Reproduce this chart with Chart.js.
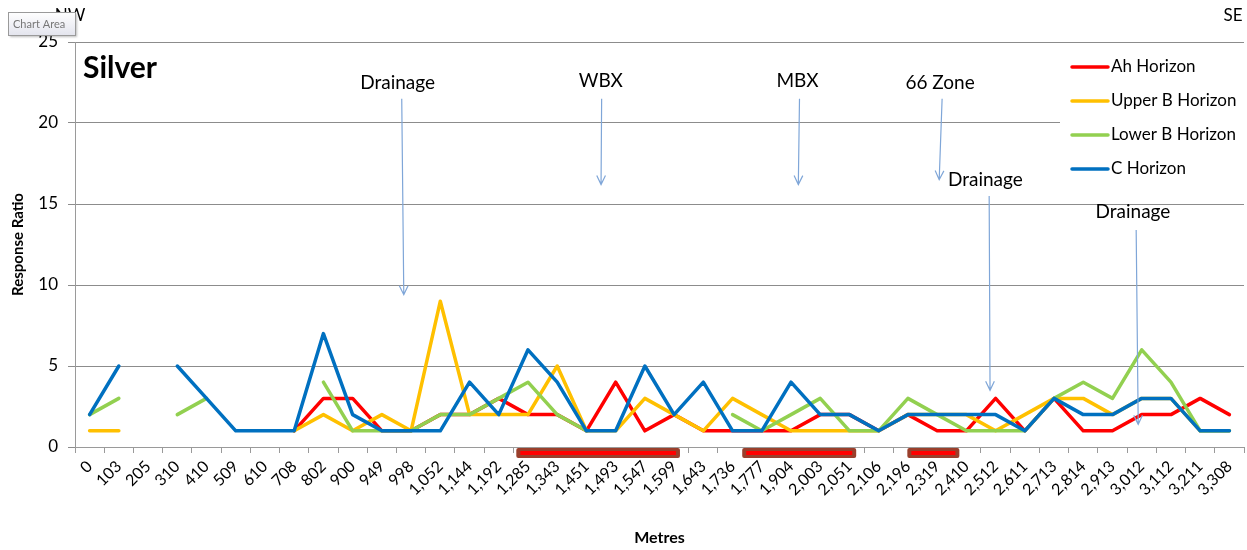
<!DOCTYPE html>
<html>
<head>
<meta charset="utf-8">
<script src="https://cdn.jsdelivr.net/npm/chart.js@4.4.1/dist/chart.umd.min.js"></script>
<style>
  html, body { margin: 0; padding: 0; background: #ffffff; }
  #wrap { width: 1247px; height: 550px; position: relative; }
</style>
</head>
<body>
<div id="wrap"><canvas id="chart" width="1247" height="550"></canvas></div>
<script>
// Sample stations along the traverse (metres)
const metres = ['0','103','205','310','410','509','610','708','802','900',
  '949','998','1,052','1,144','1,192','1,285','1,343','1,451','1,493','1,547',
  '1,599','1,643','1,736','1,777','1,904','2,003','2,051','2,106','2,196','2,319',
  '2,410','2,512','2,611','2,713','2,814','2,913','3,012','3,112','3,211','3,308'];

// Silver response ratio by soil horizon (null = not sampled)
const ahHorizon = [null,null,null,null,null,null,null,1,3,3,
  1,1,2,2,3,2,2,1,4,1,
  2,1,1,1,1,2,2,1,2,1,
  1,3,1,3,1,1,2,2,3,2];
const upperBHorizon = [1,1,null,null,null,null,null,1,2,1,
  2,1,9,2,2,2,5,1,1,3,
  2,1,3,2,1,1,1,1,2,2,
  2,1,2,3,3,2,3,3,1,1];
const lowerBHorizon = [2,3,null,2,3,null,null,null,4,1,
  1,1,2,2,3,4,2,1,null,null,
  null,null,2,1,2,3,1,1,3,2,
  1,1,1,3,4,3,6,4,1,1];
const cHorizon = [2,5,null,5,3,1,1,1,7,2,
  1,1,1,4,2,6,4,1,1,5,
  2,4,1,1,4,2,2,1,2,2,
  2,2,1,3,2,2,3,3,1,1];

const yTicks = [0, 5, 10, 15, 20, 25];

// Mineralised intervals marked under the axis (category index span)
const zones = [[14.6, 20.2], [22.33, 26.23], [27.98, 29.76]];

// Labelled arrows: text anchor and arrow ends in (category index, ratio)
const callouts = [
  { text: 'Drainage', x: 10.54, y: 22.5, from: [10.68, 21.5], to: [10.75, 9.4] },
  { text: 'WBX',      x: 17.49, y: 22.6, from: [17.52, 21.5], to: [17.50, 16.2] },
  { text: 'MBX',      x: 24.22, y: 22.6, from: [24.29, 21.5], to: [24.25, 16.2] },
  { text: '66 Zone',  x: 29.10, y: 22.5, from: [29.17, 21.5], to: [29.07, 16.5] },
  { text: 'Drainage', x: 30.65, y: 16.5, from: [30.78, 15.5], to: [30.81, 3.5] },
  { text: 'Drainage', x: 35.70, y: 14.5, from: [35.81, 13.4], to: [35.88, 1.4] }
];

const FONT = 'Lato, "Open Sans", "DejaVu Sans", sans-serif';

function series(label, data, color, order) {
  return {
    label, data, order,
    borderColor: color, backgroundColor: color,
    borderWidth: 3.5, pointRadius: 0, pointHoverRadius: 0,
    tension: 0, spanGaps: false, fill: false,
    borderJoinStyle: 'round', borderCapStyle: 'round'
  };
}

const decorations = {
  id: 'decorations',
  afterDatasetsDraw(chart) {
    const ctx = chart.ctx;
    const xs = chart.scales.x, ys = chart.scales.y;
    const area = chart.chartArea;
    ctx.save();

    // chart title inside the plot
    ctx.fillStyle = '#000';
    ctx.font = 'bold 30px ' + FONT;
    ctx.textAlign = 'left';
    ctx.textBaseline = 'alphabetic';
    ctx.fillText('Silver', area.left + 8, 78);

    // direction labels
    ctx.font = '17px ' + FONT;
    ctx.textBaseline = 'middle';
    ctx.textAlign = 'center';
    ctx.fillText('NW', 70, 16);
    ctx.fillText('SE', 1233, 16);

    // callouts with arrows
    ctx.strokeStyle = '#7fa6d8';
    ctx.lineWidth = 1.2;
    callouts.forEach(c => {
      ctx.fillStyle = '#000';
      ctx.font = '19px ' + FONT;
      ctx.textAlign = 'center';
      ctx.textBaseline = 'middle';
      ctx.fillText(c.text, xs.getPixelForValue(c.x), ys.getPixelForValue(c.y));
      const x1 = xs.getPixelForValue(c.from[0]), y1 = ys.getPixelForValue(c.from[1]);
      const x2 = xs.getPixelForValue(c.to[0]), y2 = ys.getPixelForValue(c.to[1]);
      ctx.beginPath();
      ctx.moveTo(x1, y1);
      ctx.lineTo(x2, y2);
      const a = Math.atan2(y2 - y1, x2 - x1);
      const h = 10, spread = 0.45;
      ctx.moveTo(x2 - h * Math.cos(a - spread), y2 - h * Math.sin(a - spread));
      ctx.lineTo(x2, y2);
      ctx.lineTo(x2 - h * Math.cos(a + spread), y2 - h * Math.sin(a + spread));
      ctx.stroke();
    });

    // mineralised intervals below the category axis
    const base = ys.getPixelForValue(0);
    zones.forEach(z => {
      const xa = xs.getPixelForValue(z[0]), xb = xs.getPixelForValue(z[1]);
      ctx.fillStyle = '#9a3f2c';
      ctx.beginPath();
      ctx.roundRect(xa, base + 1, xb - xa, 10, 2);
      ctx.fill();
      ctx.strokeStyle = '#ff0000';
      ctx.lineWidth = 4;
      ctx.beginPath();
      ctx.moveTo(xa + 4, base + 6);
      ctx.lineTo(xb - 4, base + 6);
      ctx.stroke();
    });

    // legend panel
    const lx = 1060, ly = 50;
    ctx.fillStyle = '#ffffff';
    ctx.fillRect(lx, ly, 185, 135);
    ctx.font = '17px ' + FONT;
    ctx.textAlign = 'left';
    ctx.textBaseline = 'middle';
    chart.data.datasets.forEach((ds, i) => {
      const y = 67 + i * 34;
      ctx.strokeStyle = ds.borderColor;
      ctx.lineWidth = 3.5;
      ctx.lineCap = 'round';
      ctx.beginPath();
      ctx.moveTo(1072, y);
      ctx.lineTo(1108, y);
      ctx.stroke();
      ctx.fillStyle = '#000';
      ctx.fillText(ds.label, 1111, y);
    });

    // hover hint box
    const g = ctx.createLinearGradient(0, 12, 0, 35);
    g.addColorStop(0, '#ffffff');
    g.addColorStop(1, '#e4e5ee');
    ctx.shadowColor = 'rgba(0,0,0,0.25)';
    ctx.shadowOffsetX = 2; ctx.shadowOffsetY = 2; ctx.shadowBlur = 2;
    ctx.fillStyle = g;
    ctx.fillRect(8, 12, 67, 23);
    ctx.shadowColor = 'transparent';
    ctx.strokeStyle = '#9a9a9a';
    ctx.lineWidth = 1;
    ctx.strokeRect(8.5, 12.5, 67, 23);
    ctx.fillStyle = '#777';
    ctx.font = '11px ' + FONT;
    ctx.textAlign = 'left';
    ctx.fillText('Chart Area', 13, 24);
    ctx.restore();
  }
};

new Chart(document.getElementById('chart'), {
  type: 'line',
  data: {
    labels: metres,
    datasets: [
      series('Ah Horizon', ahHorizon, '#ff0000', 4),
      series('Upper B Horizon', upperBHorizon, '#ffc000', 3),
      series('Lower B Horizon', lowerBHorizon, '#92d050', 2),
      series('C Horizon', cHorizon, '#0070c0', 1)
    ]
  },
  options: {
    responsive: false,
    animation: false,
    devicePixelRatio: 1,
    layout: { padding: { top: 42, right: 2, left: 0, bottom: 0 } },
    plugins: { legend: { display: false }, tooltip: { enabled: false } },
    scales: {
      x: {
        type: 'category',
        offset: true,
        grid: { offset: true, drawOnChartArea: false, color: '#9a9a9a', tickLength: 6 },
        border: { color: '#9a9a9a', width: 1 },
        ticks: {
          autoSkip: false, maxRotation: 45, minRotation: 45,
          color: '#000', padding: 4,
          font: { family: FONT, size: 16 }
        },
        title: {
          display: true, text: 'Metres', color: '#000',
          font: { family: FONT, size: 16, weight: 'bold' },
          padding: { top: 0, bottom: 3 }
        },
        afterFit(s) { s.height = 103; }
      },
      y: {
        min: 0, max: 25,
        afterBuildTicks(s) { s.ticks = yTicks.map(v => ({ value: v })); },
        grid: { color: '#8c8c8c', tickLength: 7 },
        border: { color: '#9a9a9a', width: 1 },
        ticks: { color: '#000', padding: 10, font: { family: FONT, size: 17 } },
        title: {
          display: true, text: 'Response Ratio', color: '#000',
          font: { family: FONT, size: 15, weight: 'bold' },
          padding: { top: 9, bottom: 0 }
        },
        afterFit(s) { s.width = 75; }
      }
    }
  },
  plugins: [decorations]
});
</script>
</body>
</html>
